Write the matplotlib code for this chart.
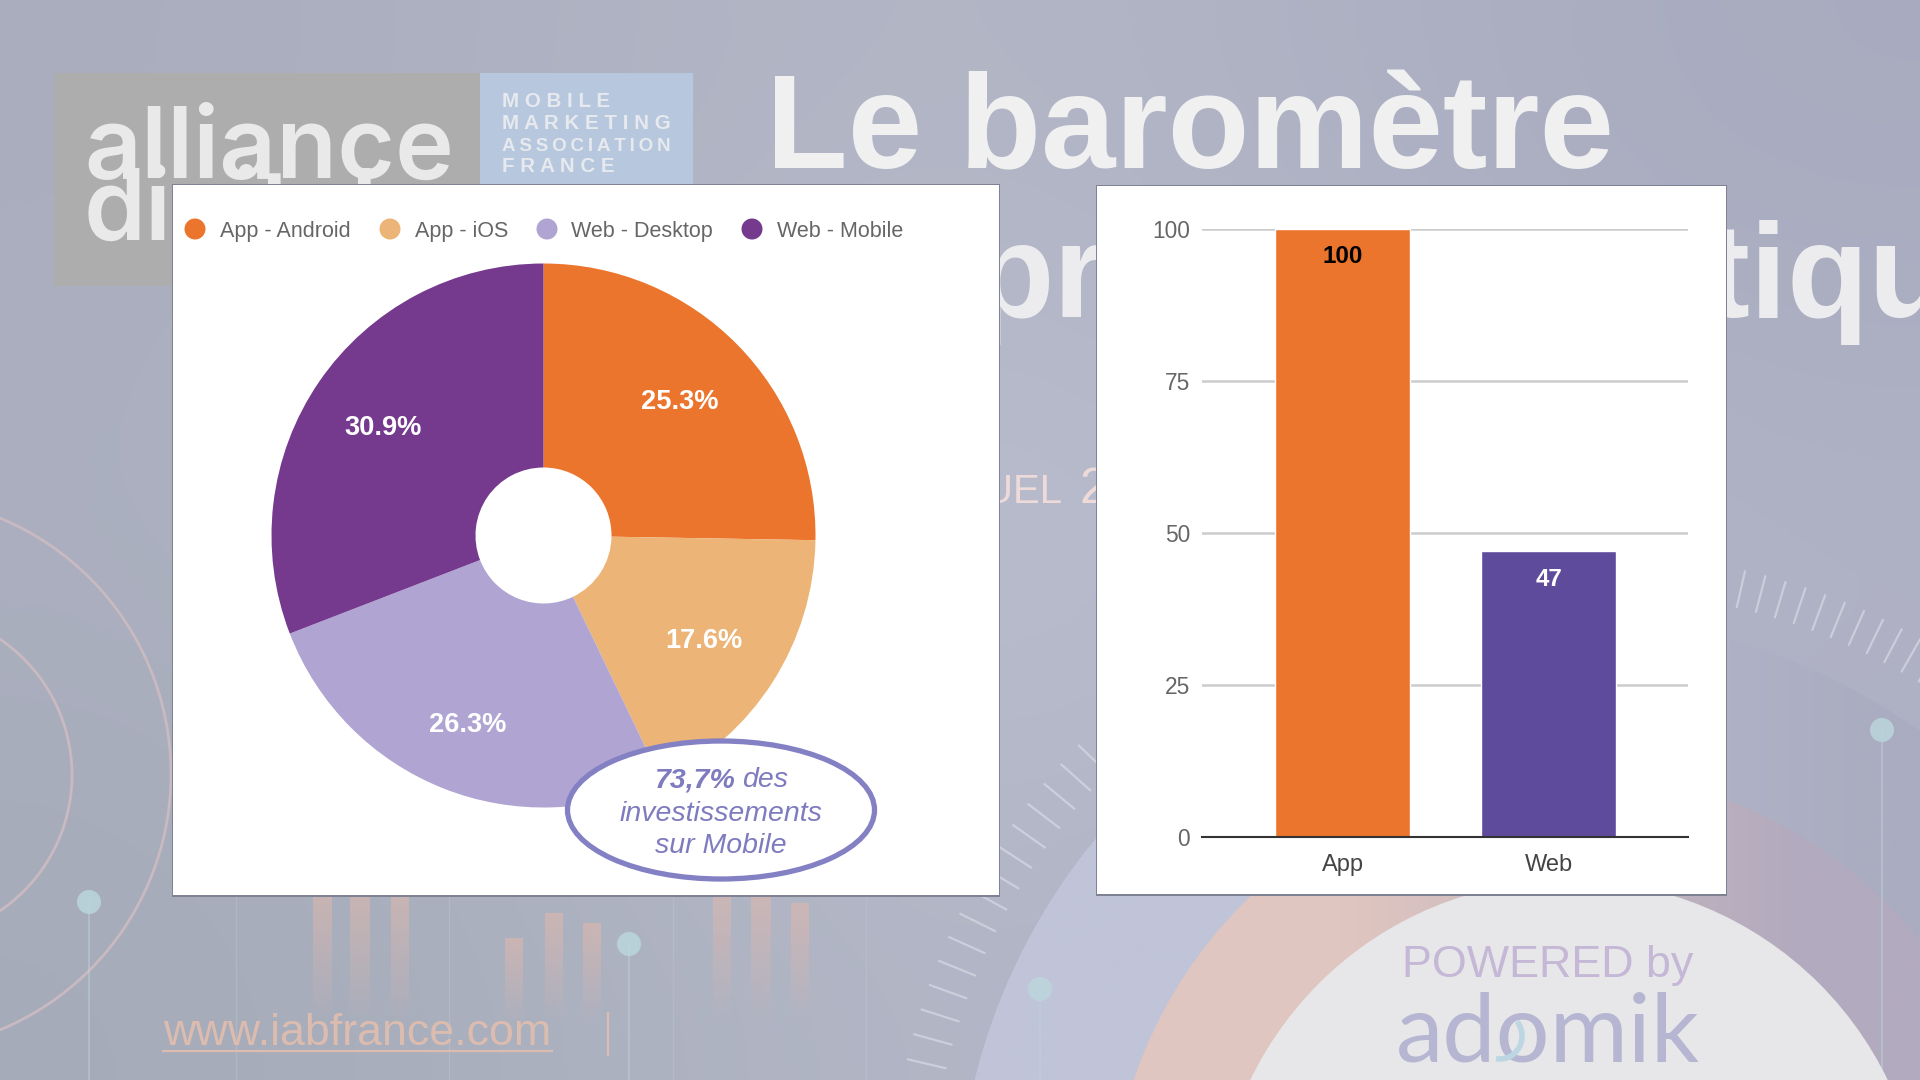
import numpy as np
import matplotlib
matplotlib.use("Agg")
import matplotlib.pyplot as plt
from matplotlib.patches import Circle, Ellipse, Rectangle, Arc

plt.rcParams['font.family'] = ['Liberation Sans', 'DejaVu Sans']

# ---- data
pie_labels = ['App - Android', 'App - iOS', 'Web - Desktop', 'Web - Mobile']
pie_values = [25.3, 17.6, 26.3, 30.9]
pie_colors = ['#EC752D', '#ECB476', '#B0A4D2', '#75398D']
bar_categories = ['App', 'Web']
bar_values = [100, 47]
bar_colors = ['#EC752D', '#5F4B9C']
bar_label_colors = ['#000000', '#FFFFFF']
y_ticks = [0, 25, 50, 75, 100]

W, H = 1920, 1080
fig = plt.figure(figsize=(W / 100, H / 100), dpi=100)


def px_axes(x0, y0, x1, y1, **kw):
    return fig.add_axes([x0 / W, 1 - y1 / H, (x1 - x0) / W, (y1 - y0) / H], **kw)


def hgrad(left, right):
    g = np.zeros((2, 2, 3))
    g[:, 0] = np.array(left) / 255
    g[:, 1] = np.array(right) / 255
    return g


# ---- slide background (decoration, in pixel coordinates)
bg = px_axes(0, 0, W, H)
bg.axis('off')
grad = np.array([
    [[169, 173, 190], [181, 185, 199], [168, 171, 191]],
    [[171, 175, 191], [192, 196, 213], [176, 178, 197]],
    [[165, 171, 185], [181, 185, 200], [173, 174, 194]],
]) / 255
bg.imshow(grad, extent=(0, W, H, 0), aspect='auto', interpolation='bicubic', zorder=0)

# large circles, bottom right
lav = bg.imshow(hgrad((192, 196, 216), (170, 172, 192)), extent=(950, 2180, H, 600),
                aspect='auto', interpolation='bilinear', zorder=1)
lav.set_clip_path(Circle((1565, 1225), 608, transform=bg.transData))
ring = bg.imshow(hgrad((224, 198, 192), (178, 170, 190)), extent=(1110, 2030, H, 760),
                 aspect='auto', interpolation='bilinear', zorder=2)
ring.set_clip_path(Circle((1565, 1225), 455, transform=bg.transData))
bg.add_patch(Circle((1569, 1234), 354, fc='#e7e7e9', ec='none', zorder=3))

# concentric arcs, left
for cx, cy, r in [(-106, 774, 277), (-92, 775, 164)]:
    bg.add_patch(Circle((cx, cy), r, fc='none', ec='#c9b9c0', lw=2, zorder=2))

# thin vertical lines
for x in [236, 449, 673, 866]:
    bg.plot([x, x], [890, H], color='#c0c6d2', lw=1, alpha=.4, zorder=2)

# pins
for x, y in [(89, 902), (629, 944), (1882, 730), (1040, 989)]:
    bg.plot([x, x], [y, H], color='#bcd4dc', lw=1.2, alpha=.55, zorder=2)
    bg.add_patch(Ellipse((x, y), 24, 24, fc='#bcd8de', ec='none', alpha=.8, zorder=3))

# faded orange bars
for x, top, w in [(322, 890, 19), (360, 890, 20), (400, 890, 18),
                  (514, 938, 18), (554, 913, 18), (592, 923, 18),
                  (722, 890, 18), (761, 890, 20), (800, 903, 18)]:
    a = np.zeros((64, 1, 4))
    a[:, :, :3] = np.array([224, 184, 172]) / 255
    a[:, 0, 3] = np.linspace(.6, 0, 64)
    bg.imshow(a, extent=(x - w / 2, x + w / 2, 1025, top), aspect='auto', zorder=2)

# radial ticks
for cx, cy, r0, r1, angs in [(1563, 1213, 634, 673, np.arange(136.0, 169.5, 2.2)),
                             (1601, 1200, 608, 645, np.arange(58.5, 78.0, 1.86))]:
    for t in np.radians(angs):
        bg.plot([cx + r0 * np.cos(t), cx + r1 * np.cos(t)],
                [cy - r0 * np.sin(t), cy - r1 * np.sin(t)],
                color='#dfe1ea', lw=1.6, alpha=.6, zorder=2, solid_capstyle='round')

# logo
bg.add_patch(Rectangle((54, 73), 426, 213, fc='#adadad', ec='none', zorder=4))
bg.add_patch(Rectangle((480, 73), 213, 213, fc='#b7c7dd', ec='none', zorder=4))
bg.text(84, 178, 'alliance', family='Inter', weight='semibold', fontsize=71.5, color='#e9e9e9', zorder=5, va='baseline')
bg.text(84, 240, 'digitale', family='Inter', weight='semibold', fontsize=71.5, color='#e9e9e9', zorder=5, va='baseline')
thin = '\u2009'
for y, s, fs in zip([107, 129, 151, 172],
                    ['M O B I L E', 'M A R K E T I N G', thin.join('ASSOCIATION'), 'F R A N C E'],
                    [14.8, 14.8, 13.6, 14.8]):
    bg.text(502, y, s, fontsize=fs, weight='bold', color='#e6e9ee', zorder=5, va='baseline')

# title and slide texts
bg.text(766, 168, 'Le baromètre', fontsize=96.3, weight='bold', color='#f0f0f1', va='baseline', zorder=5)
bg.text(972, 317, 'programmatique', fontsize=96, weight='bold', color='#ececee', va='baseline', zorder=5)
bg.text(1063, 503, 'ANNUEL', fontsize=29, color='#eedad8', ha='right', va='baseline', zorder=5)
bg.text(1079, 503, '2', fontsize=36, color='#eedad8', va='baseline', zorder=5)
bg.text(163, 1045, 'www.iabfrance.com', fontsize=32.2, color='#dcbcae', va='baseline', zorder=5)
bg.plot([163, 552], [1051, 1051], color='#dcbcae', lw=1.6, zorder=5)
bg.plot([608, 608], [1013, 1055], color='#dcbcae', lw=1.6, zorder=5)
bg.text(1548, 977, 'POWERED by', fontsize=32.3, color='#c5b8d6', ha='center', va='baseline', zorder=5)
bg.text(1548, 1062, 'adomik', family='Lato', fontsize=68.5, color='#b6b6d2', ha='center', va='baseline', zorder=5)
bg.add_patch(Arc((1500, 1036), 44, 46, theta1=-40, theta2=100, color='#bcd6e2', lw=4, zorder=6))

# white cards with shadow
for x0, y0, x1, y1 in [(173, 185, 999, 895), (1097, 186, 1726, 894)]:
    bg.add_patch(Rectangle((x0 - 1, y0 - 1), x1 - x0 + 2, y1 - y0 + 3, fc='#7f8293', ec='none', zorder=6))
    bg.add_patch(Rectangle((x0, y0), x1 - x0, y1 - y0, fc='white', ec='none', zorder=7))

bg.set_xlim(0, W)
bg.set_ylim(H, 0)

# ---- donut chart
R = 272
cx, cy = 543.5, 535.5
pie_ax = px_axes(cx - R, cy - R, cx + R, cy + R)
wedges, _, autotexts = pie_ax.pie(pie_values, colors=pie_colors, startangle=90, counterclock=False,
                                  radius=1, autopct='%.1f%%', pctdistance=0.707,
                                  wedgeprops=dict(width=0.75, linewidth=0),
                                  textprops=dict(color='white', fontsize=19.6, fontweight='bold'))
for t in autotexts:
    px, py = t.get_position()
    t.set_position((px - 0.005, py - 0.005))
# the Web - Desktop label sits further out in the reference
px, py = autotexts[2].get_position()
autotexts[2].set_position((px * 1.055, py * 1.05))
pie_ax.set_xlim(-1, 1)
pie_ax.set_ylim(-1, 1)
pie_ax.patch.set_alpha(0)

# legend, drawn with the pie colours
lg = px_axes(0, 0, W, H)
lg.axis('off')
lg.patch.set_alpha(0)
lg.set_xlim(0, W)
lg.set_ylim(H, 0)
for lab, col, xd, xt in zip(pie_labels, pie_colors, [195, 390, 547, 752], [220, 415, 571, 777]):
    lg.add_patch(Ellipse((xd, 229), 21, 21, fc=col, ec='none'))
    lg.text(xt, 229, lab, fontsize=15.5, color='#666666', va='center_baseline')

# callout
lg.add_patch(Ellipse((721, 810), 307, 138, fc='white', ec='#8480C4', lw=3.8))
callout = dict(fontsize=20.5, style='italic', color='#7F7BBF', va='center_baseline')
lg.text(735, 777, '73,7%', weight='bold', ha='right', **callout)
lg.text(742, 777, 'des', ha='left', **callout)
lg.text(721, 811, 'investissements', ha='center', **callout)
lg.text(721, 843, 'sur Mobile', ha='center', **callout)

# ---- bar chart
bar_ax = px_axes(1202, 229, 1688, 837)
xpos = np.arange(len(bar_values))
bar_ax.set_axisbelow(True)
bar_ax.yaxis.grid(True, color='#cccccc', lw=1.8)
bar_ax.bar(xpos, bar_values, width=0.655, color=bar_colors, edgecolor='white', linewidth=1, zorder=3, clip_on=False)
for x, v, c in zip(xpos, bar_values, bar_label_colors):
    bar_ax.annotate(str(v), (x, v), xytext=(0, -20), textcoords='offset points', ha='center', va='center',
                    fontsize=17.4, fontweight='bold', color=c, zorder=4)
bar_ax.set_xlim(-0.684, 1.675)
bar_ax.set_ylim(0, 100)
bar_ax.set_yticks(y_ticks)
bar_ax.set_xticks(xpos, bar_categories)
bar_ax.tick_params(axis='y', length=0, pad=8.5, labelsize=16.4, labelcolor='#666666')
bar_ax.tick_params(axis='x', length=0, pad=12.5, labelsize=17, labelcolor='#444444')
for s in ['top', 'left', 'right']:
    bar_ax.spines[s].set_visible(False)
bar_ax.spines['bottom'].set_color('#333333')
bar_ax.spines['bottom'].set_linewidth(1.5)
bar_ax.spines['bottom'].set_zorder(5)
bar_ax.patch.set_alpha(0)

fig.savefig('out.png', dpi=100)
